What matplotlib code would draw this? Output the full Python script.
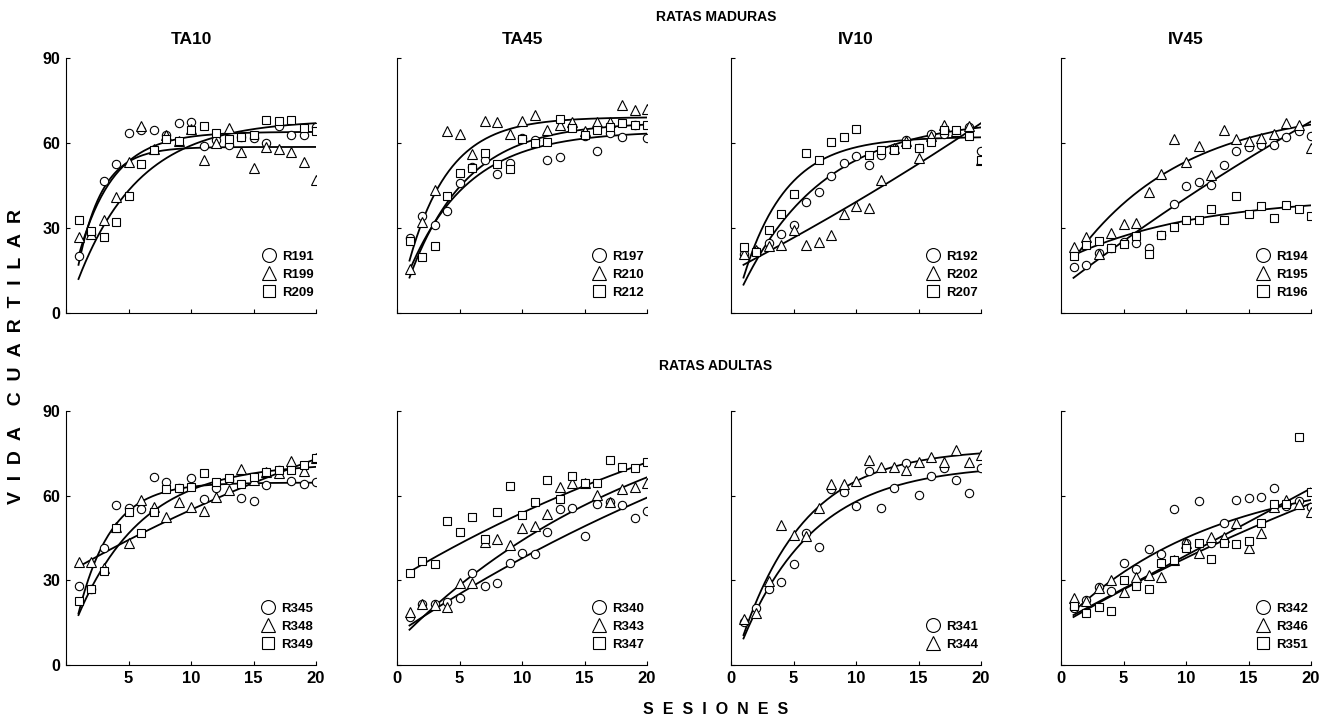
import numpy as np
import matplotlib
matplotlib.use("Agg")
import matplotlib.pyplot as plt
from matplotlib.lines import Line2D

plt.rcParams['font.family'] = ['Liberation Sans', 'DejaVu Sans']
plt.rcParams['font.weight'] = 'bold'

sessions = list(range(1, 21))

# ---------------- RATAS MADURAS ----------------
r191 = [20, 28, 46.5, 52.7, 63.5, 64.5, 64.7, 62.7, 67, 67.4, 58.8, 61.2, 59.2, 62.1, 61.9, 60, 65.9, 63, 63, 65.6]
r199 = [27, 28, 33, 41, 53.3, 65.9, 58, 62.7, 60.7, 65, 54, 60, 65.4, 57, 51.2, 58.6, 58, 56.8, 53.3, 46.8]
r209 = [32.7, 29, 26.8, 32.1, 41.2, 52.5, 57.6, 61.3, 60.6, 64.7, 65.9, 63.6, 61.3, 62.1, 62.7, 68, 67.8, 68, 65.4, 64.2]

r197 = [26.6, 34.2, 31.2, 36, 45.9, 51.5, 53.9, 48.9, 52.9, 61.9, 60.9, 54.1, 55, 65.6, 62.4, 57.1, 63.5, 62.1, 66.2, 61.9]
r210 = [15.6, 32.1, 43.3, 64.1, 63.3, 56.2, 67.6, 67.4, 63.3, 67.6, 69.8, 64.5, 66.2, 67.4, 64.1, 67.4, 67.4, 73.3, 71.8, 72.1]
r212 = [25.3, 19.8, 23.6, 41.3, 49.5, 51.2, 56.5, 52.7, 50.7, 61.5, 60, 60.4, 68.6, 65.3, 62.7, 64.7, 65.6, 67.1, 66.2, 66.5]

r192 = [20.9, 21.9, 24.7, 28, 31.2, 39.2, 42.7, 48.5, 52.9, 55.3, 52.1, 55.9, 58.4, 60.9, 58.4, 63.1, 63.3, 63.5, 65.6, 57.1]
r202 = [20.7, 22.1, 23.5, 23.9, 29.4, 23.9, 25.1, 27.4, 34.8, 37.6, 37.1, 46.8, 58.2, 60.7, 54.7, 62.5, 66.4, 64.2, 66, 54.1]
r207 = [23.3, 21.5, 29.4, 35.1, 42.1, 56.5, 54.1, 60.4, 62.1, 64.8, 55.9, 57.4, 57.6, 59.8, 58.2, 60.4, 64.5, 64.7, 62.4, 54.1]

r194 = [16.2, 17.1, 21.2, 22.9, 25.1, 24.7, 22.9, 27.4, 38.4, 44.8, 46.2, 45.1, 52.1, 57.2, 58.6, 59.2, 59.2, 62.1, 64.1, 62.4]
r195 = [23.3, 26.8, 20.9, 28.4, 31.5, 31.8, 42.7, 49.2, 61.3, 53.3, 58.8, 48.6, 64.5, 61.5, 60.7, 61.9, 63.1, 67.1, 66.2, 58.2]
r196 = [20, 24.1, 25.4, 22.9, 24.5, 27.1, 20.9, 27.4, 30.4, 32.7, 32.9, 36.8, 32.7, 41.2, 34.8, 37.8, 33.6, 38.2, 36.8, 34.2]

# ---------------- RATAS ADULTAS ----------------
r345 = [28, 26.9, 41.3, 56.7, 55.8, 55.1, 66.7, 64.7, 62.6, 66.4, 58.7, 62.6, 65.5, 59.3, 58.1, 63.8, 69.1, 65.2, 64.1, 64.7]
r348 = [36.6, 36.4, 34.2, 48.8, 43.3, 58.4, 56.1, 52.5, 57.9, 56.1, 54.7, 59.4, 62, 69.4, 65.5, 68.5, 67.9, 72.3, 68.8, 73.2]
r349 = [22.7, 26.9, 33.3, 48.6, 54.3, 46.9, 54.3, 62.2, 62.6, 62.9, 67.9, 64.9, 66.1, 64.3, 66.5, 68.5, 69.1, 69.1, 70.8, 73.2]

r340 = [17.1, 21.6, 21.6, 22.4, 23.6, 32.5, 28, 29.2, 36, 39.6, 39.3, 47.2, 55.1, 55.8, 45.8, 56.9, 57.9, 56.7, 52.2, 54.7]
r343 = [18.9, 21.6, 21.3, 20.4, 28.9, 29.2, 43.7, 44.5, 42.5, 48.6, 49.2, 53.4, 63.2, 64.6, 64.6, 60.4, 57.9, 62.2, 62.9, 64.6]
r347 = [32.7, 37, 35.7, 51, 47, 52.5, 44.5, 54.1, 63.5, 53.1, 57.9, 65.5, 58.8, 66.9, 64.6, 64.6, 72.6, 70.2, 69.7, 71.8]

r341 = [15.3, 20.1, 26.8, 29.5, 35.7, 46.6, 41.7, 62.2, 61.2, 56.3, 68.7, 55.8, 62.6, 71.4, 60.4, 66.9, 69.7, 65.5, 61, 69.7]
r344 = [16.3, 18.3, 29.8, 49.6, 46, 45.7, 55.7, 64.3, 64.1, 65.2, 72.6, 70.2, 70.2, 69.1, 72, 73.8, 71.8, 76.2, 72, 74.4]

r342 = [20.1, 23, 27.7, 26.3, 36, 33.9, 41, 39.3, 55.3, 43.3, 58.1, 43.3, 50.2, 58.4, 59, 59.6, 62.6, 56.3, 58.2, 56.1]
r346 = [23.6, 22.7, 27.4, 30.1, 26, 31.3, 31.9, 31.3, 37.2, 43.1, 39.8, 45.2, 45.2, 50.4, 41.6, 46.6, 56.1, 58.4, 57, 54.3]
r351 = [20.9, 18.3, 20.7, 19.2, 30.1, 28, 26.8, 36, 37.2, 41.3, 43.1, 37.5, 43.1, 42.9, 44, 50.4, 57, 57, 80.9, 61.4]

# Fitted-curve levels: value at session 1, 10.5 and 20
fit_levels = {
    'R191': (20, 62.5, 63.9), 'R199': (17, 58.3, 58.6), 'R209': (12, 60, 67),
    'R197': (15, 57.5, 63.3), 'R210': (18.5, 66.5, 69), 'R212': (12.5, 60.5, 66.5),
    'R192': (10, 55, 65.5), 'R202': (17, 40.5, 67), 'R207': (12.5, 59, 62),
    'R194': (12.4, 42, 67.6), 'R195': (19, 54.5, 66.5), 'R196': (20.4, 33, 38),
    'R345': (18.3, 63.4, 64.6), 'R348': (34.8, 56, 73), 'R349': (17.7, 62.9, 70.2),
    'R340': (14, 39, 59.3), 'R343': (12.5, 45.5, 66.5), 'R347': (33, 54.9, 71.8),
    'R341': (9.4, 59, 68.7), 'R344': (10.6, 66.2, 75),
    'R342': (18.9, 46, 58.5), 'R346': (17, 39, 57.3), 'R351': (17.7, 40, 62.6),
}

group_titles = ['TA10', 'TA45', 'IV10', 'IV45']
top_panels = [
    [('R191', r191), ('R199', r199), ('R209', r209)],
    [('R197', r197), ('R210', r210), ('R212', r212)],
    [('R192', r192), ('R202', r202), ('R207', r207)],
    [('R194', r194), ('R195', r195), ('R196', r196)],
]
bottom_panels = [
    [('R345', r345), ('R348', r348), ('R349', r349)],
    [('R340', r340), ('R343', r343), ('R347', r347)],
    [('R341', r341), ('R344', r344)],
    [('R342', r342), ('R346', r346), ('R351', r351)],
]
markers = ['o', '^', 's']
msizes = [6.0, 6.5, 5.5]
yticks = [0, 30, 60, 90]


def exp_curve(levels, x):
    y1, ym, y2 = levels
    d1, d2 = ym - y1, y2 - ym
    r = d2 / d1
    if abs(r - 1) < 1e-9:
        return y1 + d1 * (x - 1) / 9.5
    q = r ** (1 / 9.5)
    return y1 + d1 * (1 - q ** (x - 1)) / (1 - r)


W, H = 1330, 715
fig = plt.figure(figsize=(W / 100, H / 100), dpi=100)

lefts = [66, 397, 731, 1061]
pw = 250
rows = [(58, 313), (411, 665)]

xs_curve = np.linspace(1, 20, 200)

for ri, panels in enumerate([top_panels, bottom_panels]):
    top_px, bot_px = rows[ri]
    for ci, series in enumerate(panels):
        ax = fig.add_axes([lefts[ci] / W, 1 - bot_px / H, pw / W, (bot_px - top_px) / H])
        handles = []
        for si, (name, vals) in enumerate(series):
            ax.plot(sessions, vals, linestyle='none', marker=markers[si], ms=msizes[si],
                    mfc='white', mec='black', mew=0.8, zorder=3)
            ax.plot(xs_curve, exp_curve(fit_levels[name], xs_curve), color='black', lw=1.3, zorder=2)
            handles.append(Line2D([], [], linestyle='none', marker=markers[si],
                                  ms=[10, 10.5, 9][si], mfc='white', mec='black', mew=0.8))
        ax.legend(handles, [n for n, _ in series], loc='lower right', bbox_to_anchor=(1.0, 0.045),
                  frameon=False, handlelength=1.0, handletextpad=0.5, labelspacing=0.45,
                  borderaxespad=0, borderpad=0.2, prop={'weight': 'bold', 'size': 9.5})
        ax.set_xlim(0, 20)
        ax.set_ylim(0, 90)
        ax.set_xticks([0, 5, 10, 15, 20])
        ax.set_yticks(yticks)
        ax.spines['top'].set_visible(False)
        ax.spines['right'].set_visible(False)
        for sp in ['left', 'bottom']:
            ax.spines[sp].set_linewidth(0.8)
        ax.tick_params(direction='in', length=3, width=0.8, pad=4)
        ax.tick_params(axis='x', labelsize=12)
        ax.tick_params(axis='y', labelsize=11.5)
        if ri == 0:
            ax.set_xticklabels([])
        elif ci == 0:
            ax.set_xticklabels(['', '5', '10', '15', '20'])
        else:
            ax.set_xticklabels(['0', '5', '10', '15', '20'])
        if ci != 0:
            ax.set_yticklabels([])
        else:
            ax.set_yticklabels([str(v) for v in yticks])
        for lab in ax.get_xticklabels() + ax.get_yticklabels():
            lab.set_fontweight('bold')
        if ri == 0:
            fig.text((lefts[ci] + pw / 2) / W, 1 - 40 / H, group_titles[ci],
                     ha='center', va='center', fontsize=12.5, fontweight='bold')

fig.text(716 / W, 1 - 17 / H, 'RATAS MADURAS', ha='center', va='center', fontsize=10, fontweight='bold')
fig.text(716 / W, 1 - 366 / H, 'RATAS ADULTAS', ha='center', va='center', fontsize=10, fontweight='bold')
fig.text(17 / W, 1 - 357 / H, 'V  I  D  A    C  U  A  R  T  I  L  A  R', rotation=90,
         ha='center', va='center', fontsize=14, fontweight='bold')
fig.text(716 / W, 1 - 709 / H, 'S  E  S  I  O  N  E  S', ha='center', va='center',
         fontsize=11.5, fontweight='bold')

fig.savefig('out.png', dpi=100)
